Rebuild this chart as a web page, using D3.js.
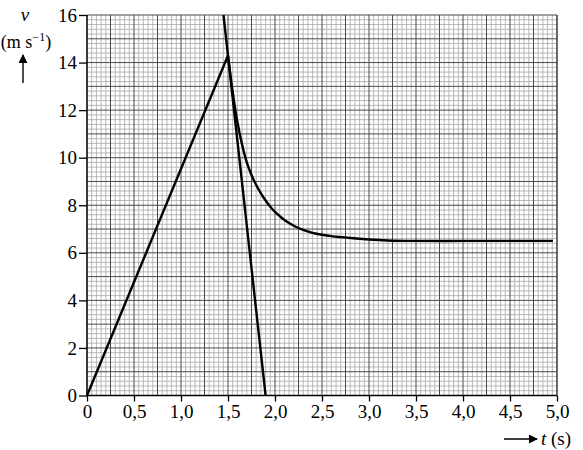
<!DOCTYPE html>
<html><head><meta charset="utf-8">
<script src="https://cdn.jsdelivr.net/npm/d3@7/dist/d3.min.js"></script>
<style>body{margin:0;background:#fff}svg text{font-family:"Liberation Serif","Times New Roman",serif;fill:#000}</style>
</head><body><svg id="c" width="583" height="450"></svg>
<script>
// Data
const xTicks = [0, 0.5, 1.0, 1.5, 2.0, 2.5, 3.0, 3.5, 4.0, 4.5, 5.0];
const xTickLabels = ["0", "0,5", "1,0", "1,5", "2,0", "2,5", "3,0", "3,5", "4,0", "4,5", "5,0"];
const yTicks = [0, 2, 4, 6, 8, 10, 12, 14, 16];
// accelerating phase (straight line)
const rampT = [0, 1.5];
const rampV = [0, 14.3];
// tangent line drawn at t = 1.5 s
const tangentT = [1.452, 1.90];
const tangentV = [16, 0];
// decelerating curve towards terminal velocity
const curveT = [1.5, 1.55, 1.6, 1.65, 1.7, 1.75, 1.8, 1.85, 1.9, 1.95, 2.0, 2.05, 2.1, 2.2, 2.3, 2.4, 2.5, 2.6, 2.8, 3.0, 3.2, 3.5, 4.0, 4.5, 4.957];
const curveV = [14.3, 12.75, 11.5, 10.55, 9.8, 9.27, 8.85, 8.5, 8.2, 7.94, 7.72, 7.54, 7.38, 7.14, 6.96, 6.84, 6.76, 6.7, 6.62, 6.56, 6.52, 6.5, 6.5, 6.5, 6.5];

const svg = d3.select("#c");
const L = 87, R = 557, T = 15, B = 395.5;
const x = d3.scaleLinear().domain([0, 5]).range([L, R]);
const y = d3.scaleLinear().domain([0, 16]).range([B, T]);

const g = svg.append("g");
// fine grid
const fineX = d3.range(0, 101).map(i => i * 0.05);
const fineY = d3.range(0, 81).map(i => i * 0.2);
g.selectAll(".fx").data(fineX.filter((d, i) => i % 5 !== 0)).enter().append("line")
  .attr("x1", d => x(d)).attr("x2", d => x(d)).attr("y1", T).attr("y2", B)
  .attr("stroke", "#b0b0b0").attr("stroke-width", 0.9);
g.selectAll(".fy").data(fineY.filter((d, i) => i % 5 !== 0)).enter().append("line")
  .attr("y1", d => y(d)).attr("y2", d => y(d)).attr("x1", L).attr("x2", R)
  .attr("stroke", "#b0b0b0").attr("stroke-width", 0.9);
// major grid
const majX = d3.range(0, 21).map(i => i * 0.25);
const majY = d3.range(0, 17);
g.selectAll(".mx").data(majX).enter().append("line")
  .attr("x1", d => x(d)).attr("x2", d => x(d)).attr("y1", T).attr("y2", B)
  .attr("stroke", "#4a4a4a").attr("stroke-width", 1);
g.selectAll(".my").data(majY).enter().append("line")
  .attr("y1", d => y(d)).attr("y2", d => y(d)).attr("x1", L).attr("x2", R)
  .attr("stroke", "#4a4a4a").attr("stroke-width", 1);

// axes
const xAxis = d3.axisBottom(x).tickValues(xTicks).tickFormat((d, i) => xTickLabels[i]).tickSize(6).tickPadding(3);
const yAxis = d3.axisLeft(y).tickValues(yTicks).tickFormat(d3.format("d")).tickSize(8).tickPadding(2);
const gx = svg.append("g").attr("transform", `translate(0,${B})`).call(xAxis);
const gy = svg.append("g").attr("transform", `translate(${L},0)`).call(yAxis);
[gx, gy].forEach(a => {
  a.select(".domain").attr("stroke", "#000").attr("stroke-width", 1.3);
  a.selectAll(".tick line").attr("stroke", "#000").attr("stroke-width", 1.3);
  a.selectAll(".tick text").style("font-family", '"Liberation Serif", serif').style("font-size", "19px").attr("fill", "#000");
});
gy.select(".domain").attr("d", `M0,${B}V${T}`);
gx.select(".domain").attr("d", `M${L},0H${R}`);
svg.append("line").attr("x1", R).attr("x2", R).attr("y1", T).attr("y2", B).attr("stroke", "#333").attr("stroke-width", 1);

// lines
const line = d3.line().x(d => x(d[0])).y(d => y(d[1]));
const curve = d3.line().x(d => x(d[0])).y(d => y(d[1])).curve(d3.curveCatmullRom.alpha(0.5));
svg.append("path").attr("d", line(d3.zip(rampT, rampV))).attr("fill", "none").attr("stroke", "#000").attr("stroke-width", 2.4);
svg.append("path").attr("d", line(d3.zip(tangentT, tangentV))).attr("fill", "none").attr("stroke", "#000").attr("stroke-width", 2.4);
svg.append("path").attr("d", curve(d3.zip(curveT, curveV))).attr("fill", "none").attr("stroke", "#000").attr("stroke-width", 2.4);

// axis labels
svg.append("text").attr("x", 25).attr("y", 21).attr("text-anchor", "middle").style("font-size", "19px").style("font-style", "italic").text("v");
const ul = svg.append("text").attr("x", 26).attr("y", 48).attr("text-anchor", "middle").style("font-size", "18px");
ul.append("tspan").text("(m s");
ul.append("tspan").attr("dy", -7).style("font-size", "12px").text("−1");
ul.append("tspan").attr("dy", 7).text(")");
// arrows
svg.append("defs").append("marker").attr("id", "ah").attr("viewBox", "0 0 10 10").attr("refX", 9).attr("refY", 5)
  .attr("markerWidth", 9).attr("markerHeight", 9).attr("markerUnits", "userSpaceOnUse").attr("orient", "auto")
  .append("path").attr("d", "M0,0L10,5L0,10Z").attr("fill", "#000");
svg.append("line").attr("x1", 23).attr("x2", 23).attr("y1", 83).attr("y2", 55).attr("stroke", "#000").attr("stroke-width", 1.4).attr("marker-end", "url(#ah)");
svg.append("line").attr("x1", 504).attr("x2", 537).attr("y1", 439).attr("y2", 439).attr("stroke", "#000").attr("stroke-width", 1.4).attr("marker-end", "url(#ah)");
const tl = svg.append("text").attr("x", 541).attr("y", 445).style("font-size", "19px");
tl.append("tspan").style("font-style", "italic").text("t");
tl.append("tspan").text(" (s)");
</script></body></html>
